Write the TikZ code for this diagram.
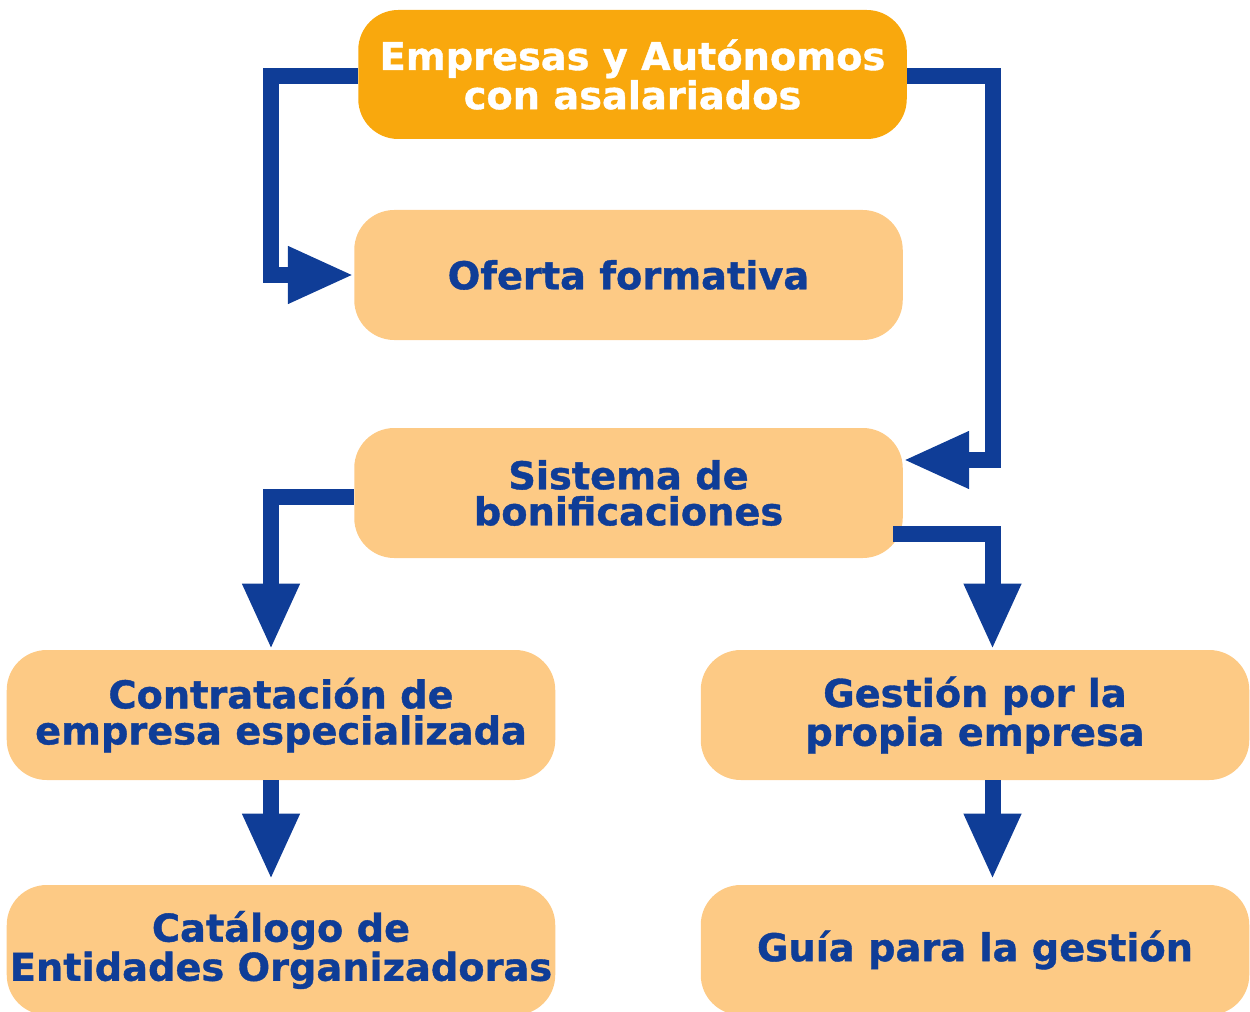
\documentclass[tikz,border=0pt]{standalone}
\usepackage{fontspec}
\setmainfont{DejaVu Sans}[BoldFeatures={FakeBold=1}]
\usetikzlibrary{arrows.meta}
\definecolor{azul}{HTML}{0F3D97}
\definecolor{naranja}{HTML}{F9A80D}
\definecolor{crema}{HTML}{FDCA85}
\begin{document}
\begin{tikzpicture}[
  caja/.style={rounded corners=0.8cm, fill=crema, text=azul, minimum width=10.97cm,
    minimum height=2.6cm, align=center, inner sep=0pt,
    font=\fontsize{21.8}{20.5}\selectfont\bfseries},
  cabeza/.style={caja, fill=naranja, text=white, minimum height=2.58cm},
  enlace/.style={draw=azul, line width=0.32cm,
    -{Triangle[length=1.32cm, width=1.06cm]}, color=azul}
]
\useasboundingbox (0,0) rectangle (25,-20.24);

%-------------- cajas --------------------
\node[cabeza] (emp) at (12.65,-1.49) {Empresas y Autónomos\\con asalariados};
\node[caja] (ofe) at (12.57,-5.5) {Oferta formativa};
\node[caja] (sis) at (12.57,-9.86) {Sistema de\\bonificaciones};
\node[caja] (con) at (5.62,-14.3) {Contratación de\\empresa especializada};
\node[caja] (ges) at (19.5,-14.3) {Gestión por la\\propia empresa};
\node[caja] (cat) at (5.62,-19.0) {Catálogo de\\Entidades Organizadoras};
\node[caja] (gui) at (19.5,-19.0) {Guía para la gestión};

%-------------- flechas --------------------
\draw[enlace] ([yshift=-0.03cm]emp.west) -- ++(-1.74,0) |- (ofe.west);
\draw[enlace] ([yshift=-0.03cm]emp.east) -- ++(1.71,0) |- ([yshift=0.66cm]sis.east);
\draw[enlace] ([yshift=-0.08cm]sis.west) -| ([xshift=-0.2cm]con.north);
\draw[enlace] ([yshift=-0.82cm,xshift=-0.2cm]sis.east) -| ([xshift=0.35cm]ges.north);
\draw[enlace] ([xshift=-0.2cm]con.south) -- ([xshift=-0.2cm,yshift=0.1cm]cat.north);
\draw[enlace] ([xshift=0.35cm]ges.south) -- ([xshift=0.35cm,yshift=0.1cm]gui.north);

\end{tikzpicture}
\end{document}
